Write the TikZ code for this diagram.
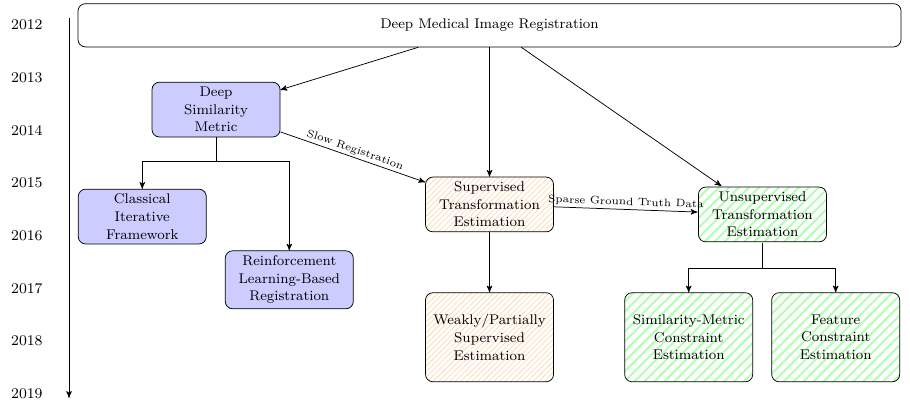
\documentclass[tikz,border=0pt]{standalone}
\usepackage{amsmath}
\usepackage{tikz}
\usetikzlibrary{shapes.geometric}
\usetikzlibrary{positioning}
\usetikzlibrary{patterns}
\usetikzlibrary{patterns.meta}
\usetikzlibrary{arrows}

\begin{document}
\begin{tikzpicture}[>=stealth',auto,font=\footnotesize,
	main node/.style={rectangle,draw,rounded corners=4pt,align=center,
		minimum width=2.43cm,minimum height=1.04cm,inner sep=1pt,
		font=\fontsize{7.6}{9.5}\selectfont},
	blue node/.style={main node,fill=blue!20},
	sup node/.style={main node,pattern=north east lines,pattern color=orange!30},
	unsup node/.style={main node,pattern={Lines[angle=45,distance=3.8pt,line width=1.1pt]},pattern color=green!30},
	year node/.style={inner sep=0pt}]
	
	\useasboundingbox (0,0) rectangle (17.27,-7.76);
	
	% time line
	\foreach \yr [count=\i from 0] in {2012,2013,2014,2015,2016,2017,2018,2019}
	\node[year node] (y\yr) at (0.51,-0.47-\i) {\yr};
	\coordinate (tstart) at (1.31,-0.34);
	\coordinate (tend) at (1.31,-7.55);
	\draw[->] (tstart) -- (tend);
	
	\node[main node,minimum width=15.62cm,minimum height=0.82cm] (top) at (9.29,-0.48) {Deep Medical Image Registration};
	
	\node[blue node] (dsm) at (4.10,-2.08) {Deep\\Similarity\\Metric};
	\node[blue node] (cif) at (2.70,-4.11) {Classical\\Iterative\\Framework};
	\node[blue node,minimum height=1.10cm] (rl) at (5.49,-5.31) {Reinforcement\\Learning-Based\\Registration};
	
	\node[sup node] (sup) at (9.29,-3.88) {Supervised\\Transformation\\Estimation};
	\node[sup node,minimum height=1.69cm] (weak) [below of=sup,node distance=2.52cm] {Weakly/Partially\\Supervised\\Estimation};
	
	\node[unsup node] (uns) at (14.47,-4.07) {Unsupervised\\Transformation\\Estimation};
	\node[unsup node,minimum height=1.69cm] (smc) at (13.07,-6.40) {Similarity-Metric\\Constraint\\Estimation};
	\node[unsup node,minimum height=1.69cm] (fce) [right of=smc,node distance=2.79cm] {Feature\\Constraint\\Estimation};
	
	\path[->]
	(top) edge (dsm)
	(top) edge (sup)
	(top) edge (uns)
	(weak) edge [<-] (sup);
	
	\path[->,every node/.style={font=\fontsize{5.8}{7}\selectfont,sloped,above,inner sep=1pt}]
	(dsm) edge node {Slow Registration} (sup)
	(sup) edge node {Sparse Ground Truth Data} (uns);
	
	\draw[->] (dsm.south) -- ++(0,-0.455) -| (cif.north);
	\draw[->] (dsm.south) -- ++(0,-0.455) -| (rl.north);
	\draw[->] (uns.south) -- ++(0,-0.48) -| (smc.north);
	\draw[->] (uns.south) -- ++(0,-0.48) -| (fce.north);
\end{tikzpicture}
\end{document}
